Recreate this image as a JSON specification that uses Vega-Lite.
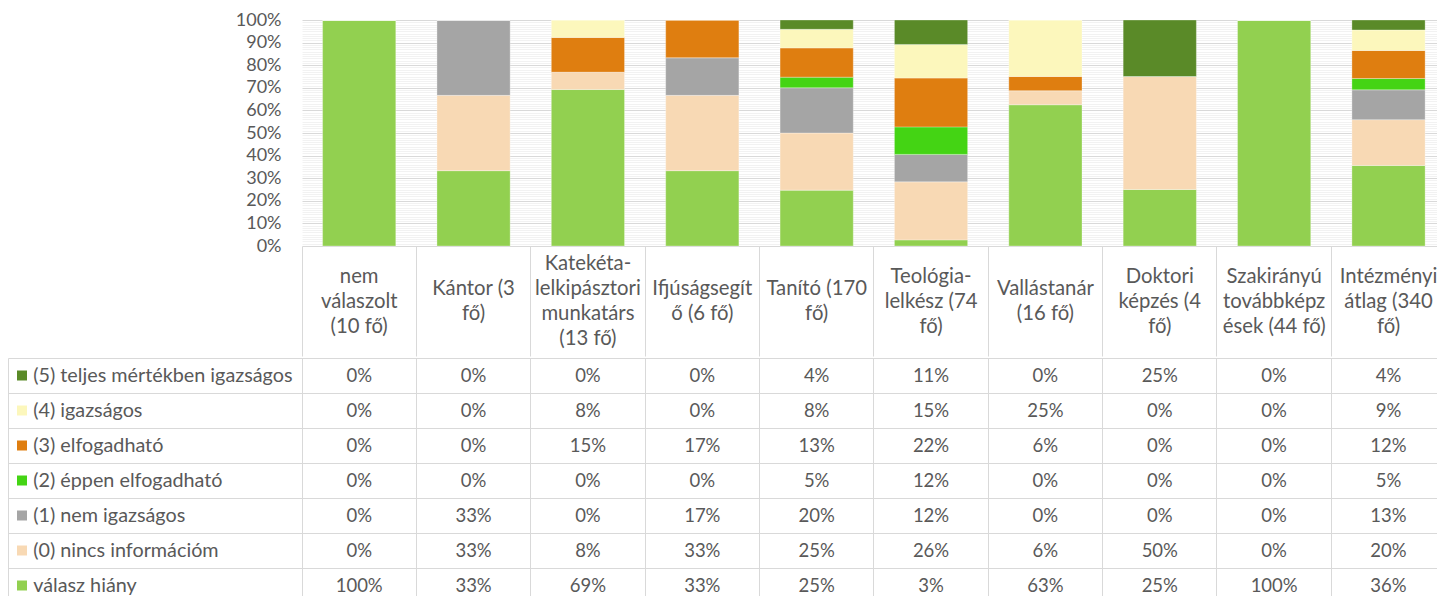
{
  "$schema": "https://vega.github.io/schema/vega-lite/v6.json",
  "background": "white",
  "padding": {"left": 7, "top": 11, "right": 0, "bottom": 0},
  "spacing": 0,
  "config": {"view": {"stroke": null}, "font": "Lato"},
  "datasets": {
    "d": [
      {"c": "nem\nválaszolt\n(10 fő)", "s": "válasz hiány", "k": -1, "v": 1},
      {"c": "nem\nválaszolt\n(10 fő)", "s": "(0) nincs információm", "k": 0, "v": 0},
      {"c": "nem\nválaszolt\n(10 fő)", "s": "(1) nem igazságos", "k": 1, "v": 0},
      {"c": "nem\nválaszolt\n(10 fő)", "s": "(2) éppen elfogadható", "k": 2, "v": 0},
      {"c": "nem\nválaszolt\n(10 fő)", "s": "(3) elfogadható", "k": 3, "v": 0},
      {"c": "nem\nválaszolt\n(10 fő)", "s": "(4) igazságos", "k": 4, "v": 0},
      {"c": "nem\nválaszolt\n(10 fő)", "s": "(5) teljes mértékben igazságos", "k": 5, "v": 0},

      {"c": "Kántor (3\nfő)", "s": "válasz hiány", "k": -1, "v": 0.3333},
      {"c": "Kántor (3\nfő)", "s": "(0) nincs információm", "k": 0, "v": 0.3333},
      {"c": "Kántor (3\nfő)", "s": "(1) nem igazságos", "k": 1, "v": 0.3334},
      {"c": "Kántor (3\nfő)", "s": "(2) éppen elfogadható", "k": 2, "v": 0},
      {"c": "Kántor (3\nfő)", "s": "(3) elfogadható", "k": 3, "v": 0},
      {"c": "Kántor (3\nfő)", "s": "(4) igazságos", "k": 4, "v": 0},
      {"c": "Kántor (3\nfő)", "s": "(5) teljes mértékben igazságos", "k": 5, "v": 0},

      {"c": "Katekéta-\nlelkipásztori\nmunkatárs\n(13 fő)", "s": "válasz hiány", "k": -1, "v": 0.6923},
      {"c": "Katekéta-\nlelkipásztori\nmunkatárs\n(13 fő)", "s": "(0) nincs információm", "k": 0, "v": 0.0769},
      {"c": "Katekéta-\nlelkipásztori\nmunkatárs\n(13 fő)", "s": "(1) nem igazságos", "k": 1, "v": 0},
      {"c": "Katekéta-\nlelkipásztori\nmunkatárs\n(13 fő)", "s": "(2) éppen elfogadható", "k": 2, "v": 0},
      {"c": "Katekéta-\nlelkipásztori\nmunkatárs\n(13 fő)", "s": "(3) elfogadható", "k": 3, "v": 0.1538},
      {"c": "Katekéta-\nlelkipásztori\nmunkatárs\n(13 fő)", "s": "(4) igazságos", "k": 4, "v": 0.077},
      {"c": "Katekéta-\nlelkipásztori\nmunkatárs\n(13 fő)", "s": "(5) teljes mértékben igazságos", "k": 5, "v": 0},

      {"c": "Ifjúságsegít\nő (6 fő)", "s": "válasz hiány", "k": -1, "v": 0.3333},
      {"c": "Ifjúságsegít\nő (6 fő)", "s": "(0) nincs információm", "k": 0, "v": 0.3333},
      {"c": "Ifjúságsegít\nő (6 fő)", "s": "(1) nem igazságos", "k": 1, "v": 0.1667},
      {"c": "Ifjúságsegít\nő (6 fő)", "s": "(2) éppen elfogadható", "k": 2, "v": 0},
      {"c": "Ifjúságsegít\nő (6 fő)", "s": "(3) elfogadható", "k": 3, "v": 0.1667},
      {"c": "Ifjúságsegít\nő (6 fő)", "s": "(4) igazságos", "k": 4, "v": 0},
      {"c": "Ifjúságsegít\nő (6 fő)", "s": "(5) teljes mértékben igazságos", "k": 5, "v": 0},

      {"c": "Tanító (170\nfő)", "s": "válasz hiány", "k": -1, "v": 0.2471},
      {"c": "Tanító (170\nfő)", "s": "(0) nincs információm", "k": 0, "v": 0.2529},
      {"c": "Tanító (170\nfő)", "s": "(1) nem igazságos", "k": 1, "v": 0.2},
      {"c": "Tanító (170\nfő)", "s": "(2) éppen elfogadható", "k": 2, "v": 0.0471},
      {"c": "Tanító (170\nfő)", "s": "(3) elfogadható", "k": 3, "v": 0.1294},
      {"c": "Tanító (170\nfő)", "s": "(4) igazságos", "k": 4, "v": 0.0824},
      {"c": "Tanító (170\nfő)", "s": "(5) teljes mértékben igazságos", "k": 5, "v": 0.0411},

      {"c": "Teológia-\nlelkész (74\nfő)", "s": "válasz hiány", "k": -1, "v": 0.027},
      {"c": "Teológia-\nlelkész (74\nfő)", "s": "(0) nincs információm", "k": 0, "v": 0.2568},
      {"c": "Teológia-\nlelkész (74\nfő)", "s": "(1) nem igazságos", "k": 1, "v": 0.1216},
      {"c": "Teológia-\nlelkész (74\nfő)", "s": "(2) éppen elfogadható", "k": 2, "v": 0.1216},
      {"c": "Teológia-\nlelkész (74\nfő)", "s": "(3) elfogadható", "k": 3, "v": 0.2162},
      {"c": "Teológia-\nlelkész (74\nfő)", "s": "(4) igazságos", "k": 4, "v": 0.1486},
      {"c": "Teológia-\nlelkész (74\nfő)", "s": "(5) teljes mértékben igazságos", "k": 5, "v": 0.1082},

      {"c": "Vallástanár\n(16 fő)", "s": "válasz hiány", "k": -1, "v": 0.625},
      {"c": "Vallástanár\n(16 fő)", "s": "(0) nincs információm", "k": 0, "v": 0.0625},
      {"c": "Vallástanár\n(16 fő)", "s": "(1) nem igazságos", "k": 1, "v": 0},
      {"c": "Vallástanár\n(16 fő)", "s": "(2) éppen elfogadható", "k": 2, "v": 0},
      {"c": "Vallástanár\n(16 fő)", "s": "(3) elfogadható", "k": 3, "v": 0.0625},
      {"c": "Vallástanár\n(16 fő)", "s": "(4) igazságos", "k": 4, "v": 0.25},
      {"c": "Vallástanár\n(16 fő)", "s": "(5) teljes mértékben igazságos", "k": 5, "v": 0},

      {"c": "Doktori\nképzés (4\nfő)", "s": "válasz hiány", "k": -1, "v": 0.25},
      {"c": "Doktori\nképzés (4\nfő)", "s": "(0) nincs információm", "k": 0, "v": 0.5},
      {"c": "Doktori\nképzés (4\nfő)", "s": "(1) nem igazságos", "k": 1, "v": 0},
      {"c": "Doktori\nképzés (4\nfő)", "s": "(2) éppen elfogadható", "k": 2, "v": 0},
      {"c": "Doktori\nképzés (4\nfő)", "s": "(3) elfogadható", "k": 3, "v": 0},
      {"c": "Doktori\nképzés (4\nfő)", "s": "(4) igazságos", "k": 4, "v": 0},
      {"c": "Doktori\nképzés (4\nfő)", "s": "(5) teljes mértékben igazságos", "k": 5, "v": 0.25},

      {"c": "Szakirányú\ntovábbképz\nések (44 fő)", "s": "válasz hiány", "k": -1, "v": 1},
      {"c": "Szakirányú\ntovábbképz\nések (44 fő)", "s": "(0) nincs információm", "k": 0, "v": 0},
      {"c": "Szakirányú\ntovábbképz\nések (44 fő)", "s": "(1) nem igazságos", "k": 1, "v": 0},
      {"c": "Szakirányú\ntovábbképz\nések (44 fő)", "s": "(2) éppen elfogadható", "k": 2, "v": 0},
      {"c": "Szakirányú\ntovábbképz\nések (44 fő)", "s": "(3) elfogadható", "k": 3, "v": 0},
      {"c": "Szakirányú\ntovábbképz\nések (44 fő)", "s": "(4) igazságos", "k": 4, "v": 0},
      {"c": "Szakirányú\ntovábbképz\nések (44 fő)", "s": "(5) teljes mértékben igazságos", "k": 5, "v": 0},

      {"c": "Intézményi\nátlag (340\nfő)", "s": "válasz hiány", "k": -1, "v": 0.356},
      {"c": "Intézményi\nátlag (340\nfő)", "s": "(0) nincs információm", "k": 0, "v": 0.203},
      {"c": "Intézményi\nátlag (340\nfő)", "s": "(1) nem igazságos", "k": 1, "v": 0.132},
      {"c": "Intézményi\nátlag (340\nfő)", "s": "(2) éppen elfogadható", "k": 2, "v": 0.05},
      {"c": "Intézményi\nátlag (340\nfő)", "s": "(3) elfogadható", "k": 3, "v": 0.124},
      {"c": "Intézményi\nátlag (340\nfő)", "s": "(4) igazságos", "k": 4, "v": 0.091},
      {"c": "Intézményi\nátlag (340\nfő)", "s": "(5) teljes mértékben igazságos", "k": 5, "v": 0.044}
    ]
  },
  "vconcat": [
    {
      "width": 1135,
      "height": 226,
      "data": {"name": "d"},
      "mark": {"type": "bar", "width": {"band": 0.64}, "stroke": "#ffffff", "strokeWidth": 0.6, "strokeOpacity": 0.5},
      "encoding": {
        "x": {
          "field": "c", "type": "nominal",
          "scale": {"type": "band", "domain": ["nem\nválaszolt\n(10 fő)", "Kántor (3\nfő)", "Katekéta-\nlelkipásztori\nmunkatárs\n(13 fő)", "Ifjúságsegít\nő (6 fő)", "Tanító (170\nfő)", "Teológia-\nlelkész (74\nfő)", "Vallástanár\n(16 fő)", "Doktori\nképzés (4\nfő)", "Szakirányú\ntovábbképz\nések (44 fő)", "Intézményi\nátlag (340\nfő)"], "range": [0, 1143.7], "paddingInner": 0, "paddingOuter": 0},
          "axis": {
            "orient": "bottom", "title": null, "domain": false, "grid": false,
            "ticks": true, "tickSize": 110, "tickColor": "#D9D9D9", "tickWidth": 1, "bandPosition": 0,
            "labelExpr": "split(datum.label, '\\n')",
            "labelAngle": 0, "labelAlign": "center", "labelBaseline": "middle",
            "labelPadding": {"condition": [
              {"test": "length(split(datum.value, '\\n')) === 4", "value": -92.5},
              {"test": "length(split(datum.value, '\\n')) === 3", "value": -80}
            ], "value": -67.5},
            "labelLineHeight": 25,
            "labelFont": "Lato", "labelFontSize": 20.3, "labelColor": "#595959",
            "labelLimit": 0, "labelOverlap": false, "labelFlush": false, "labelBound": false
          }
        },
        "y": {
          "field": "v", "type": "quantitative", "stack": "zero",
          "scale": {"domain": [0, 1], "nice": false, "zero": true},
          "axis": {
            "title": null, "domain": false, "grid": false,
            "values": [0,0.01,0.02,0.03,0.04,0.05,0.06,0.07,0.08,0.09,0.1,0.11,0.12,0.13,0.14,0.15,0.16,0.17,0.18,0.19,0.2,0.21,0.22,0.23,0.24,0.25,0.26,0.27,0.28,0.29,0.3,0.31,0.32,0.33,0.34,0.35,0.36,0.37,0.38,0.39,0.4,0.41,0.42,0.43,0.44,0.45,0.46,0.47,0.48,0.49,0.5,0.51,0.52,0.53,0.54,0.55,0.56,0.57,0.58,0.59,0.6,0.61,0.62,0.63,0.64,0.65,0.66,0.67,0.68,0.69,0.7,0.71,0.72,0.73,0.74,0.75,0.76,0.77,0.78,0.79,0.8,0.81,0.82,0.83,0.84,0.85,0.86,0.87,0.88,0.89,0.9,0.91,0.92,0.93,0.94,0.95,0.96,0.97,0.98,0.99,1],
            "format": ".0%",
            "labelExpr": "round(datum.value * 100) % 10 === 0 ? datum.label : ''",
            "ticks": true, "tickSize": -1135, "tickWidth": 1,
            "tickColor": {"condition": {"test": "round(datum.value * 100) % 10 === 0", "value": "#D9D9D9"}, "value": "#F2F2F2"},
            "labelPadding": 1156,
            "labelFont": "Lato", "labelFontSize": 18, "labelColor": "#595959",
            "labelOverlap": false, "labelFlush": false, "labelBound": false
          }
        },
        "color": {
          "field": "s", "type": "nominal",
          "scale": {
            "domain": ["(5) teljes mértékben igazságos", "(4) igazságos", "(3) elfogadható", "(2) éppen elfogadható", "(1) nem igazságos", "(0) nincs információm", "válasz hiány"],
            "range": ["#5A8A28", "#FCF7BC", "#DF7E10", "#44D414", "#A5A5A5", "#F8D9B4", "#92D050"]
          },
          "legend": null
        },
        "order": {"field": "k", "type": "quantitative", "sort": "ascending"}
      }
    },
    {
      "width": 1135,
      "height": 239,
      "data": {"name": "d"},
      "layer": [
        {
          "mark": {"type": "text", "font": "Lato", "fontSize": 18.5, "color": "#595959", "align": "center", "baseline": "middle"},
          "encoding": {
            "x": {
              "field": "c", "type": "nominal",
              "scale": {"type": "band", "domain": ["nem\nválaszolt\n(10 fő)", "Kántor (3\nfő)", "Katekéta-\nlelkipásztori\nmunkatárs\n(13 fő)", "Ifjúságsegít\nő (6 fő)", "Tanító (170\nfő)", "Teológia-\nlelkész (74\nfő)", "Vallástanár\n(16 fő)", "Doktori\nképzés (4\nfő)", "Szakirányú\ntovábbképz\nések (44 fő)", "Intézményi\nátlag (340\nfő)"], "range": [0, 1143.7], "paddingInner": 0, "paddingOuter": 0},
              "axis": {"orient": "bottom", "offset": -239, "title": null, "labels": false, "domain": false, "grid": false, "ticks": true, "tickSize": 239, "tickWidth": 1, "tickColor": "#D9D9D9", "bandPosition": 0}
            },
            "y": {
              "field": "s", "type": "nominal",
              "scale": {"type": "band", "domain": ["(5) teljes mértékben igazságos", "(4) igazságos", "(3) elfogadható", "(2) éppen elfogadható", "(1) nem igazságos", "(0) nincs információm", "válasz hiány"], "range": [0, 245.5], "paddingInner": 0, "paddingOuter": 0},
              "axis": {"orient": "left", "offset": 294, "title": null, "labels": false, "domain": false, "grid": false, "ticks": true, "tickSize": -1429, "tickColor": "#D9D9D9", "bandPosition": 0}
            },
            "text": {"field": "v", "type": "quantitative", "format": ".0%"}
          }
        },
        {
          "mark": {"type": "text", "text": ""},
          "encoding": {
            "x": {
              "field": "c", "type": "nominal",
              "scale": {"type": "band", "domain": ["nem\nválaszolt\n(10 fő)", "Kántor (3\nfő)", "Katekéta-\nlelkipásztori\nmunkatárs\n(13 fő)", "Ifjúságsegít\nő (6 fő)", "Tanító (170\nfő)", "Teológia-\nlelkész (74\nfő)", "Vallástanár\n(16 fő)", "Doktori\nképzés (4\nfő)", "Szakirányú\ntovábbképz\nések (44 fő)", "Intézményi\nátlag (340\nfő)"], "range": [0, 1143.7], "paddingInner": 0, "paddingOuter": 0},
              "axis": null
            },
            "y": {
              "field": "s", "type": "nominal",
              "scale": {"type": "band", "domain": ["(5) teljes mértékben igazságos", "(4) igazságos", "(3) elfogadható", "(2) éppen elfogadható", "(1) nem igazságos", "(0) nincs információm", "válasz hiány"], "range": [0, 245.5], "paddingInner": 0, "paddingOuter": 0},
              "axis": {
                "orient": "left", "offset": 275.5, "title": null, "domain": false, "grid": false,
                "ticks": true, "tickSize": 10, "tickWidth": 10, "bandPosition": 0.5,
                "tickColor": {"condition": [
                  {"test": "datum.value === '(5) teljes mértékben igazságos'", "value": "#5A8A28"},
                  {"test": "datum.value === '(4) igazságos'", "value": "#FCF7BC"},
                  {"test": "datum.value === '(3) elfogadható'", "value": "#DF7E10"},
                  {"test": "datum.value === '(2) éppen elfogadható'", "value": "#44D414"},
                  {"test": "datum.value === '(1) nem igazságos'", "value": "#A5A5A5"},
                  {"test": "datum.value === '(0) nincs információm'", "value": "#F8D9B4"}
                ], "value": "#92D050"},
                "labelAlign": "left", "labelBaseline": "middle", "labelPadding": -16.2,
                "labelFont": "Lato", "labelFontSize": 19.8, "labelColor": "#595959",
                "labelLimit": 0, "labelOverlap": false, "labelBound": false
              }
            }
          }
        },
        {
          "mark": {"type": "text", "text": ""},
          "encoding": {
            "x": {
              "field": "c", "type": "nominal",
              "scale": {"type": "band", "domain": ["nem\nválaszolt\n(10 fő)", "Kántor (3\nfő)", "Katekéta-\nlelkipásztori\nmunkatárs\n(13 fő)", "Ifjúságsegít\nő (6 fő)", "Tanító (170\nfő)", "Teológia-\nlelkész (74\nfő)", "Vallástanár\n(16 fő)", "Doktori\nképzés (4\nfő)", "Szakirányú\ntovábbképz\nések (44 fő)", "Intézményi\nátlag (340\nfő)"], "range": [0, 1143.7], "paddingInner": 0, "paddingOuter": 0},
              "axis": {"orient": "bottom", "offset": -239, "values": ["nem\nválaszolt\n(10 fő)"], "title": null, "labels": false, "domain": false, "grid": false, "ticks": true, "tickSize": 239, "tickWidth": 1, "tickColor": "#D9D9D9", "bandPosition": 0, "tickOffset": -294}
            },
            "y": {
              "field": "s", "type": "nominal",
              "scale": {"type": "band", "domain": ["(5) teljes mértékben igazságos", "(4) igazságos", "(3) elfogadható", "(2) éppen elfogadható", "(1) nem igazságos", "(0) nincs információm", "válasz hiány"], "range": [0, 245.5], "paddingInner": 0, "paddingOuter": 0},
              "axis": null
            }
          }
        }
      ],
      "resolve": {"axis": {"x": "independent", "y": "independent"}}
    }
  ]
}
